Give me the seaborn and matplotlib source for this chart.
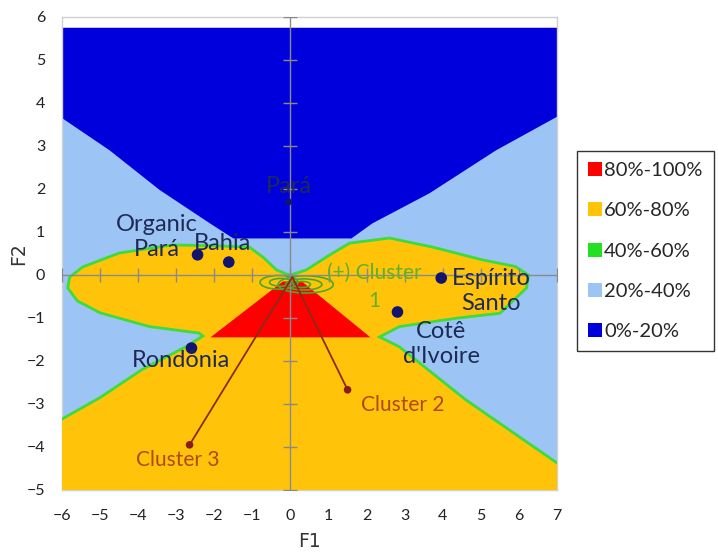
import matplotlib
matplotlib.use("Agg")
import matplotlib.pyplot as plt
import seaborn as sns
import pandas as pd
from matplotlib.patches import Patch, Ellipse

# === DATA ===
# preference regions (boundary points, F1 / F2 units)
darkblue_x = [-6, -6, -4.75, -3.44, -2.13, -1.5, 1.6, 2.15, 3.65, 5.4, 7, 7]
darkblue_y = [5.75, 3.65, 2.9, 1.98, 1.21, 0.85, 0.85, 1.2, 1.9, 2.9, 3.68, 5.75]

gold_x = [0.0, -0.1, -0.37, -0.7, -1.08, -2.0, -3.1, -4.5, -5.45, -5.8, -5.85, -5.6,
          -5.0, -3.7, -2.4, -2.3, -2.75, -3.9, -5.0, -6.0, -6.6, -6.6, 7.6, 7.6, 7.0,
          4.6, 2.86, 2.34, 2.86, 4.4, 5.5, 6.2, 6.25, 5.9, 5.05, 3.73, 2.6, 1.55, 1.0, 0.42]
gold_y = [0.0, 0.02, 0.12, 0.4, 0.65, 0.68, 0.7, 0.51, 0.19, -0.05, -0.3, -0.6,
          -0.88, -1.2, -1.35, -1.42, -1.67, -2.2, -2.85, -3.35, -3.6, -5.6, -5.6, -4.75, -4.37,
          -2.9, -1.67, -1.44, -1.2, -1.0, -0.89, -0.3, 0.0, 0.2, 0.35, 0.65, 0.86, 0.74, 0.45, 0.12]

red_x = [-2.1, -0.2, 0.3, 2.1]
red_y = [-1.45, -0.15, -0.15, -1.45]

# small contour rings around the ideal point of cluster 1
ring_cx = [-0.3, -0.25, 0.4, 0.35, 0.3]
ring_cy = [-0.17, -0.17, -0.22, -0.22, -0.22]
ring_w = [1.0, 0.6, 1.45, 0.95, 0.45]
ring_h = [0.32, 0.18, 0.4, 0.26, 0.14]

# products
prod_names = ["Pará", "Organic\nPará", "Bahia", "Espírito\nSanto", "Cotê\nd'Ivoire", "Rondônia"]
prod_f1 = [-0.05, -2.44, -1.62, 3.96, 2.81, -2.6]
prod_f2 = [1.7, 0.47, 0.3, -0.07, -0.86, -1.7]
prod_lab_x = [-0.05, -3.5, -1.78, 5.27, 3.96, -2.87]
prod_lab_y = [2.05, 0.88, 0.74, -0.38, -1.6, -1.98]
prod_size = [25, 70, 70, 70, 70, 70]

# clusters
clus_names = ["Cluster 2", "Cluster 3"]
clus_f1 = [1.5, -2.65]
clus_f2 = [-2.67, -3.95]
clus_lab_x = [2.94, -2.96]
clus_lab_y = [-3.02, -4.3]

legend_labels = ["80%-100%", "60%-80%", "40%-60%", "20%-40%", "0%-20%"]
legend_colors = ["#FF0000", "#FFC40A", "#22E022", "#9CC4F4", "#0000DC"]

x_ticks = list(range(-6, 8))
y_ticks = list(range(-5, 7))

# === PLOT ===
sns.set_theme(style="white")
plt.rcParams["font.family"] = ["Lato", "DejaVu Sans"]

fig = plt.figure(figsize=(7.18, 5.53), dpi=100)
ax = fig.add_axes([62 / 718, 1 - 490 / 553, 495 / 718, 473 / 553])

ax.fill([-6, 7, 7, -6], [-5, -5, 5.75, 5.75], color="#9CC4F4", lw=0, zorder=1)
ax.fill(darkblue_x, darkblue_y, color="#0000DC", lw=0, zorder=2)
ax.fill(gold_x, gold_y, facecolor="#FFC40A", edgecolor="#3CDC3C", lw=2, zorder=3)
ax.fill(red_x, red_y, color="#FF0000", lw=0, zorder=4)

for cx, cy, w, h in zip(ring_cx, ring_cy, ring_w, ring_h):
    ax.add_patch(Ellipse((cx, cy), w, h, fill=False, edgecolor="#4CA82A", lw=1.2, zorder=5))

# axes through origin with cross ticks
ax.axhline(0, color="#8A8A8A", lw=1, zorder=6)
ax.axvline(0, color="#8A8A8A", lw=1, zorder=6)
ax.plot(x_ticks, [0] * len(x_ticks), ls="none", marker="|", ms=10, mew=1, color="#8A8A8A", zorder=6)
ax.plot([0] * len(y_ticks), y_ticks, ls="none", marker="_", ms=10, mew=1, color="#8A8A8A", zorder=6)

# cluster vectors
for fx, fy in zip(clus_f1, clus_f2):
    ax.plot([0.05, fx], [-0.05, fy], color="#8B2A1A", lw=1.3, zorder=7)

prod_df = pd.DataFrame({"F1": prod_f1, "F2": prod_f2, "size": prod_size})
sns.scatterplot(data=prod_df, x="F1", y="F2", size="size", sizes=(25, 70),
                color="#14146E", edgecolor="none", legend=False, ax=ax, zorder=8)
clus_df = pd.DataFrame({"F1": clus_f1, "F2": clus_f2})
sns.scatterplot(data=clus_df, x="F1", y="F2", s=30, color="#8B1A1A",
                edgecolor="none", legend=False, ax=ax, zorder=8)

for name, lx, ly in zip(prod_names, prod_lab_x, prod_lab_y):
    ax.text(lx, ly, name, ha="center", va="center", fontsize=17, color="#1E2A55",
            linespacing=1.25, zorder=9)
for name, lx, ly in zip(clus_names, clus_lab_x, clus_lab_y):
    ax.text(lx, ly, name, ha="center", va="center", fontsize=15, color="#B04812", zorder=9)
ax.text(2.2, -0.28, "(+) Cluster\n1", ha="center", va="center", fontsize=15,
        color="#62B02C", linespacing=1.5, zorder=9)

ax.set_xlim(-6, 7)
ax.set_ylim(-5, 6)
ax.set_xticks(x_ticks)
ax.set_yticks(y_ticks)
ax.tick_params(length=0, labelsize=11.5, colors="#222222")
ax.tick_params(axis="y", pad=12)
ax.tick_params(axis="x", pad=14)
ax.set_xlabel("F1", fontsize=13.5, family="DejaVu Sans", color="#333333")
ax.set_ylabel("F2", fontsize=13.5, family="DejaVu Sans", color="#333333")
ax.xaxis.set_label_coords(0.5, -0.088)
ax.yaxis.set_label_coords(-0.068, 0.5)
for sp in ax.spines.values():
    sp.set_color("#D0D0D0")
    sp.set_linewidth(1)

handles = [Patch(facecolor=c, edgecolor="none") for c in legend_colors]
leg = fig.legend(handles, legend_labels, loc="upper left",
                 bbox_to_anchor=(577 / 718, 1 - 151 / 553), fontsize=14.5,
                 frameon=True, fancybox=False, edgecolor="black",
                 handlelength=0.7, handleheight=0.7, handletextpad=0.1,
                 labelspacing=1.15, borderpad=0.55, borderaxespad=0)
leg.get_frame().set_linewidth(1)

fig.savefig("out.png", dpi=100)
